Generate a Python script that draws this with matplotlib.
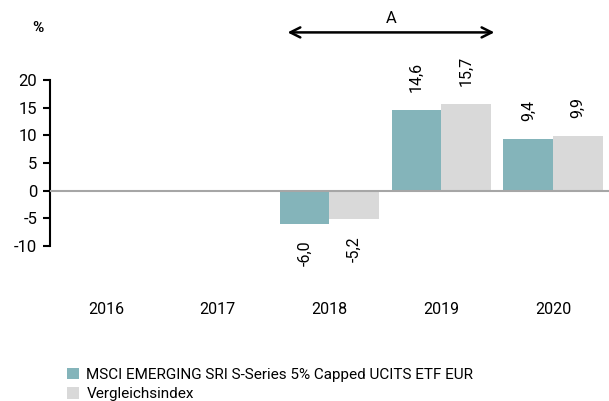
import numpy as np
from matplotlib import pyplot as plt

years = ["2016", "2017", "2018", "2019", "2020"]
fund = [np.nan, np.nan, -6.0, 14.6, 9.4]
index = [np.nan, np.nan, -5.2, 15.7, 9.9]
fund_labels = ["", "", "-6,0", "14,6", "9,4"]
index_labels = ["", "", "-5,2", "15,7", "9,9"]
legend_names = ["MSCI EMERGING SRI S-Series 5% Capped UCITS ETF EUR", "Vergleichsindex"]

teal = "#84b4ba"
grey = "#d9d9d9"

plt.rcParams["font.family"] = ["Roboto", "DejaVu Sans"]

fig = plt.figure(figsize=(6.09, 4.01), dpi=100)
ax = fig.add_axes([0.082, 0.3865, 0.918, 0.414])

x = np.arange(len(years))
w = 0.445
b1 = ax.bar(x - w / 2, fund, w, color=teal, label=legend_names[0])
b2 = ax.bar(x + w / 2, index, w, color=grey, label=legend_names[1])

for bars, labs in [(b1, fund_labels), (b2, index_labels)]:
    for rect, lab in zip(bars, labs):
        if not lab:
            continue
        h = rect.get_height()
        cx = rect.get_x() + rect.get_width() / 2
        if h >= 0:
            ax.annotate(lab, (cx, h), xytext=(0, 13), textcoords="offset points",
                        rotation=90, ha="center", va="bottom", fontsize=11.5)
        else:
            ax.annotate(lab, (cx, h), xytext=(0, -12), textcoords="offset points",
                        rotation=90, ha="center", va="top", fontsize=11.5)

ax.axhline(0, color="#a6a6a6", lw=1.5, zorder=3)
ax.set_xlim(-0.5, 4.5)
ax.set_ylim(-10, 20)
ax.set_yticks([-10, -5, 0, 5, 10, 15, 20])
ax.set_yticklabels(["-10", "-5", "0", "5", "10", "15", "20"], fontsize=12)
ax.set_xticks(x)
ax.set_xticklabels(years, fontsize=11.5)
ax.tick_params(axis="x", length=0, pad=40)
ax.tick_params(axis="y", length=5, width=1.5, pad=4)
for s in ["top", "right", "bottom"]:
    ax.spines[s].set_visible(False)
ax.spines["left"].set_linewidth(1.5)

# Zeitraum-Pfeil
ax.annotate("", xy=(1.6, 28.6), xytext=(3.5, 28.6), annotation_clip=False,
            arrowprops=dict(arrowstyle="<->", lw=1.8, color="black", mutation_scale=18))
ax.text(2.55, 29.8, "A", ha="center", va="bottom", fontsize=12, clip_on=False)
fig.text(0.062, 0.93, "%", ha="center", va="center", fontsize=11, fontweight="bold")

leg = fig.legend(loc="lower left", bbox_to_anchor=(0.088, -0.035), frameon=False,
                 handlelength=0.75, handleheight=0.75, handletextpad=0.5,
                 labelspacing=0.35, prop={"size": 11})

fig.savefig("out.png", dpi=100)
